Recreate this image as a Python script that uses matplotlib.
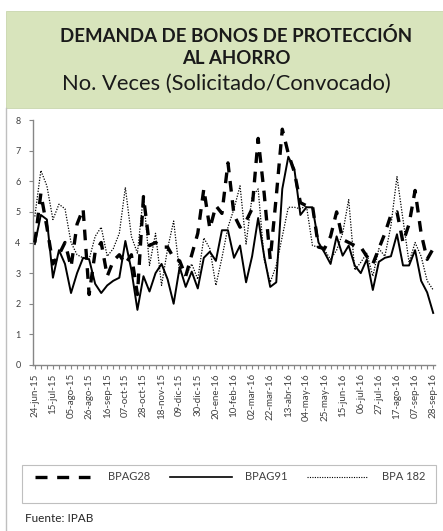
import matplotlib
matplotlib.use("Agg")
import matplotlib.pyplot as plt
from matplotlib.lines import Line2D
from matplotlib.patches import Rectangle

plt.rcParams['font.family'] = ['Lato', 'DejaVu Sans']

tick_labels = ["24-jun-15", "15-jul-15", "05-ago-15", "26-ago-15", "16-sep-15", "07-oct-15",
               "28-oct-15", "18-nov-15", "09-dic-15", "30-dic-15", "20-ene-16", "10-feb-16",
               "02-mar-16", "22-mar-16", "13-abr-16", "04-may-16", "25-may-16", "15-jun-16",
               "06-jul-16", "27-jul-16", "17-ago-16", "07-sep-16", "28-sep-16"]

bpag28 = [4.0, 5.6, 4.5, 3.3, 3.6, 4.0, 3.2, 4.6, 5.1, 2.3,
          3.7, 4.0, 2.9, 3.4, 3.6, 3.3, 3.6, 2.3, 5.5, 3.9,
          4.0, 3.85, 3.85, 3.5, 3.4, 2.9, 3.6, 4.3, 5.75, 4.45,
          5.2, 4.95, 6.6, 4.9, 4.5, 4.7, 5.1, 7.4, 5.6, 3.45,
          5.5, 7.7, 6.9, 6.3, 5.3, 5.2, 5.2, 3.85, 3.8, 4.2,
          5.0, 4.1, 4.0, 3.9, 3.85, 3.55, 3.3, 3.8, 4.3, 4.9,
          5.0, 4.0, 4.6, 5.7, 4.3, 3.45, 3.8]

bpag91 = [3.95, 4.9, 4.75, 2.85, 3.75, 3.3, 2.35, 3.0, 3.5, 3.45,
          2.65, 2.35, 2.6, 2.75, 2.85, 4.05, 3.1, 1.8, 2.9, 2.4,
          3.0, 3.3, 2.8, 2.0, 3.2, 2.55, 3.05, 2.5, 3.5, 3.7,
          3.4, 4.4, 4.4, 3.5, 3.9, 2.7, 3.55, 4.8, 3.55, 2.55,
          2.7, 5.75, 6.8, 6.4, 4.9, 5.15, 5.15, 4.0, 3.67, 3.3,
          4.2, 3.57, 3.9, 3.25, 3.0, 3.45, 2.45, 3.37, 3.5, 3.55,
          4.27, 3.25, 3.25, 3.75, 2.75, 2.37, 1.7]

bpa182 = [4.85, 6.35, 5.85, 4.75, 5.25, 5.1, 4.0, 3.6, 3.5, 3.45,
          4.2, 4.5, 3.55, 3.8, 4.3, 5.8, 4.2, 3.65, 5.55, 3.25,
          4.3, 2.6, 3.8, 4.7, 3.0, 2.9, 3.3, 2.8, 4.15, 3.8,
          2.6, 3.5, 4.5, 5.1, 5.85, 3.95, 5.5, 5.75, 3.45, 2.7,
          3.25, 4.2, 5.15, 5.15, 5.1, 5.2, 3.9, 3.85, 3.75, 3.45,
          3.75, 4.3, 5.4, 3.1, 3.35, 3.65, 2.9, 3.8, 3.55, 4.55,
          6.15, 4.75, 3.35, 4.0, 3.55, 2.75, 2.45]

series_names = ["BPAG28", "BPAG91", "BPA 182"]

W, H = 443, 531
fig = plt.figure(figsize=(W / 100, H / 100), dpi=100)
fig.patch.set_facecolor("white")

def fx(px):
    return px / W

def fy(py):
    return 1 - py / H

# Title box
fig.add_artist(Rectangle((fx(6), fy(108)), fx(443) - fx(6), fy(11) - fy(108),
                         transform=fig.transFigure, facecolor="#D8E4BC",
                         edgecolor="#C9D6AE", linewidth=0.6, zorder=0))
fig.add_artist(Line2D([fx(6), fx(6)], [0, fy(108)], transform=fig.transFigure,
                      color="#BFBFBF", linewidth=1.0))
fig.text(fx(236), fy(36), "DEMANDA DE BONOS DE PROTECCIÓN", ha="center", va="center",
         fontsize=13.4, fontweight="bold", color="#1a1a1a")
fig.text(fx(236), fy(59), "AL AHORRO", ha="center", va="center",
         fontsize=13.4, fontweight="bold", color="#1a1a1a")
fig.text(fx(226), fy(84), "No. Veces (Solicitado/Convocado)", ha="center", va="center",
         fontsize=15.8, color="#1a1a1a")

# Plot
ax = fig.add_axes([fx(33), fy(365), fx(435) - fx(33), fy(120) - fy(365)])
x = list(range(len(bpag91)))
ax.plot(x, bpag28, color="black", linewidth=2.4, linestyle=(0, (3.2, 2.6)), zorder=3)
ax.plot(x, bpag91, color="black", linewidth=1.4, linestyle="-", zorder=2)
ax.plot(x, bpa182, color="black", linewidth=0.9, linestyle=(0, (1, 1.2)), zorder=1)

ax.set_ylim(0, 8)
ax.set_xlim(-0.3, len(x) - 1 + 0.3)
ax.set_yticks(range(0, 9))
ax.set_xticks(list(range(0, len(x), 3)))
ax.set_xticklabels(tick_labels, rotation=90)
ax.set_xticks(x, minor=True)
for s in ["top", "right"]:
    ax.spines[s].set_visible(False)
for s in ["left", "bottom"]:
    ax.spines[s].set_color("#868686")
    ax.spines[s].set_linewidth(1.0)
ax.tick_params(axis="y", direction="out", length=3, width=0.8, color="#868686",
               labelsize=6.5, labelcolor="#404040", pad=6)
ax.tick_params(axis="x", which="both", direction="out", length=3, width=0.8,
               color="#868686", labelsize=7, labelcolor="#404040", pad=3)

# Legend box
fig.add_artist(Rectangle((fx(22), fy(503)), fx(436) - fx(22), fy(465) - fy(503),
                         transform=fig.transFigure, facecolor="white",
                         edgecolor="#BFBFBF", linewidth=0.8))
ly = fy(477)
fig.add_artist(Line2D([fx(35), fx(90)], [ly, ly], transform=fig.transFigure,
                      color="black", linewidth=2.4, linestyle=(0, (3.6, 2.9))))
fig.text(fx(108), ly, series_names[0], ha="left", va="center", fontsize=8, color="#404040")
fig.add_artist(Line2D([fx(170), fx(232)], [ly, ly], transform=fig.transFigure,
                      color="black", linewidth=1.2))
fig.text(fx(245), ly, series_names[1], ha="left", va="center", fontsize=8, color="#404040")
fig.add_artist(Line2D([fx(307), fx(368)], [ly, ly], transform=fig.transFigure,
                      color="black", linewidth=0.8, linestyle=(0, (1, 1.2))))
fig.text(fx(382), ly, series_names[2], ha="left", va="center", fontsize=8, color="#404040")

fig.text(fx(25), fy(519), "Fuente: IPAB", ha="left", va="center", fontsize=8.5, color="#262626")

fig.savefig("out.png", dpi=100)
